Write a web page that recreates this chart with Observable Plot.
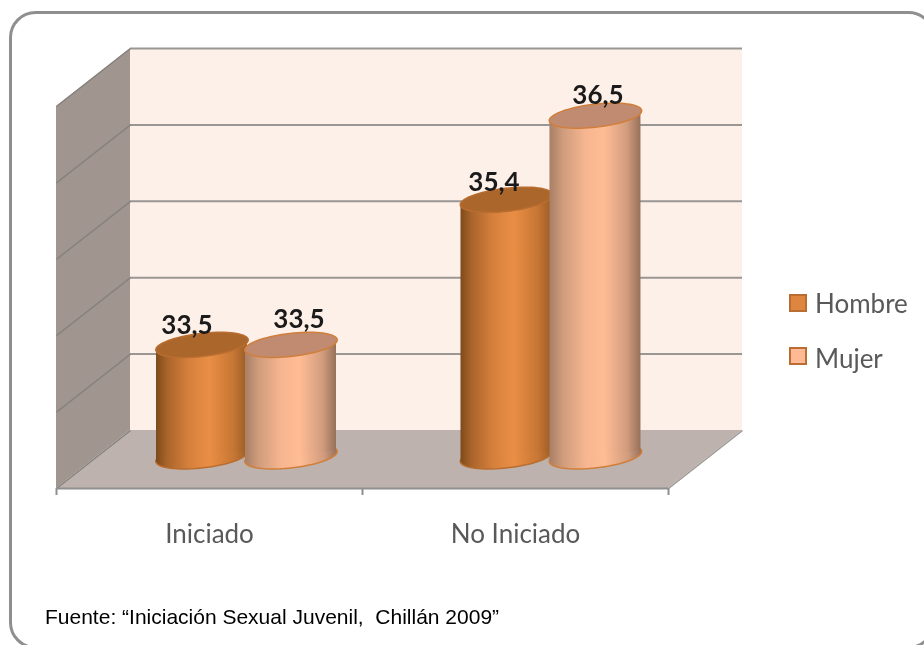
<!DOCTYPE html>
<html>
<head>
<meta charset="utf-8">
<script src="https://cdn.jsdelivr.net/npm/d3@7"></script>
<script src="https://cdn.jsdelivr.net/npm/@observablehq/plot@0.6"></script>
<style>
html,body{margin:0;padding:0;background:#fff;overflow:hidden}
#wrap{position:relative;width:924px;height:645px;filter:blur(0.4px)}
.lg{position:absolute;left:815px;font:26px/30px Lato,sans-serif;color:#595959}
.sw{position:absolute;left:789px;width:14px;height:14px;border:2px solid #b96d30}
#src{position:absolute;left:45px;top:605px;font:21px/24px "Liberation Sans",Arial,sans-serif;color:#000;white-space:pre}
</style>
</head>
<body>
<div id="wrap">
  <div id="chart"></div>
  <div class="sw" style="top:294px;background:#de853f"></div>
  <div class="lg" style="top:288px">Hombre</div>
  <div class="sw" style="top:347px;background:#ffb994"></div>
  <div class="lg" style="top:343px">Mujer</div>
  <div id="src">Fuente: “Iniciación Sexual Juvenil,  Chillán 2009”</div>
</div>
<script>
const categories = ["Iniciado", "No Iniciado"];
const hombre = [33.5, 35.4];
const mujer = [33.5, 36.5];
const valueTicks = [32, 33, 34, 35, 36, 37];

// 3D projection, in data units
const depthX = 74 / 306, depthY = 58 / 76.4;
const midY = depthY / 2, midX = depthX / 2;
const baseV = valueTicks[0], topV = valueTicks[valueTicks.length - 1];
const halfW = 0.1487, off = 0.1454, tilt = 0.075, floorLift = 0.42;

const tiltedEllipse = (rx, ry, deg) => ({
  draw(ctx) {
    const t = deg * Math.PI / 180, c = Math.cos(t), s = Math.sin(t);
    for (let i = 0; i <= 72; ++i) {
      const a = i / 72 * 2 * Math.PI, ex = rx * Math.cos(a), ey = ry * Math.sin(a);
      const px = ex * c - ey * s, py = ex * s + ey * c;
      i ? ctx.lineTo(px, py) : ctx.moveTo(px, py);
    }
    ctx.closePath();
  }
});
const ellipse = tiltedEllipse(46.5, 11.5, -6.5);

const gradient = (id, stops) => () => {
  const defs = d3.create("svg:defs");
  const g = defs.append("linearGradient").attr("id", id).attr("x1", 0).attr("x2", 1).attr("y1", 0).attr("y2", 0);
  stops.forEach(([o, c]) => g.append("stop").attr("offset", o).attr("stop-color", c));
  return defs.node();
};

function cylinder(values, side, gid, topFill, edge) {
  const rows = values.map((v, i) => ({v, cx: i + 0.5 + midX + side * off - i * 0.005, i}));
  const body = rows.flatMap(r => [
    {i: r.i, x: r.cx - halfW, y1: baseV + floorLift - tilt, y2: r.v + midY - tilt},
    {i: r.i, x: r.cx + halfW, y1: baseV + floorLift + tilt, y2: r.v + midY + tilt}
  ]);
  return [
    Plot.dot(rows, {x: "cx", y: () => baseV + floorLift, r: 10, symbol: ellipse, fill: `url(#${gid})`, stroke: edge, strokeWidth: 1.5}),
    Plot.area(body, {x1: "x", y1: "y1", y2: "y2", z: "i", fill: `url(#${gid})`, curve: "linear"}),
    Plot.dot(rows, {x: "cx", y: r => r.v + midY, r: 10, symbol: ellipse, fill: topFill, stroke: edge, strokeWidth: 1.5})
  ];
}

function label(value, cat, side, dx, dy) {
  return Plot.text([value], {
    x: () => cat + 0.5 + midX + side * off, y: d => d + midY,
    text: d => d.toFixed(1).replace(".", ","),
    dx, dy, fontSize: 26, fontWeight: "bold", fontFamily: "Lato", fill: "#1a1a1a"
  });
}

const gridColor = "#9a9694";
const plot = Plot.plot({
  width: 924, height: 645,
  marginTop: 12, marginLeft: 10, marginRight: 3, marginBottom: 157,
  x: {domain: [0, 2], range: [56, 668], axis: null},
  y: {domain: [baseV, topV], range: [488, 106], axis: null},
  marks: [
    gradient("gh", [[0, "#7d4a1c"], [0.12, "#a9642a"], [0.35, "#d57f3c"], [0.58, "#ea8e45"], [0.85, "#c67634"], [1, "#9a5c26"]]),
    gradient("gm", [[0, "#a87f66"], [0.15, "#d09c7c"], [0.4, "#f7b690"], [0.6, "#ffbc95"], [0.85, "#d29d7e"], [1, "#96705a"]]),
    Plot.frame({rx: 25, stroke: "#8f8f8f", strokeWidth: 3, insetBottom: -159, insetRight: -12}),
    // back wall
    Plot.rect([0], {x1: () => depthX, x2: () => 2 + depthX, y1: () => baseV + depthY, y2: () => topV + depthY, fill: "#fdf0e9"}),
    // left wall
    Plot.area([0, 1], {x1: d => d * depthX, y1: d => baseV + d * depthY, y2: d => topV + d * depthY, fill: "#a1968f", curve: "linear"}),
    // floor
    Plot.area([0, 1], {y1: d => baseV + d * depthY, x1: d => d * depthX, x2: d => 2 + d * depthX, fill: "#bdb2ae", curve: "linear"}),
    // gridlines
    Plot.ruleY(valueTicks, {y: d => d + depthY, x1: () => depthX, x2: () => 2 + depthX, stroke: gridColor, strokeWidth: 2, filter: d => d > baseV}),
    Plot.link(valueTicks, {x1: () => 0, y1: d => d, x2: () => depthX, y2: d => d + depthY, stroke: "#86827f", strokeWidth: 1.5}),
    Plot.link([0], {x1: () => 2, y1: () => baseV, x2: () => 2 + depthX, y2: () => baseV + depthY, stroke: gridColor, strokeWidth: 1.5}),
    Plot.ruleY([baseV], {x1: () => 0, x2: () => 2, stroke: "#8f8f8f", strokeWidth: 2}),
    // axis
    Plot.axisX({ticks: [0, 1, 2], tickSize: 7, tickFormat: () => "", stroke: "#8f8f8f", strokeWidth: 2}),
    Plot.axisX({
      ticks: categories.map((_, i) => i + 0.5), tickSize: 0, tickPadding: 36,
      tickFormat: d => categories[d - 0.5], fontSize: 26, fontFamily: "Lato", fill: "#595959"
    }),
    // cylinders
    ...cylinder(hombre, -1, "gh", "#ab662c", "#b96d30"),
    ...cylinder(mujer, 1, "gm", "#c08b70", "#d07f3a"),
    // value labels
    label(hombre[0], 0, -1, -15, -19),
    label(mujer[0], 0, 1, 8, -25),
    label(hombre[1], 1, -1, -14, -17),
    label(mujer[1], 1, 1, 1, -20)
  ]
});
document.getElementById("chart").append(plot);
</script>
</body>
</html>
